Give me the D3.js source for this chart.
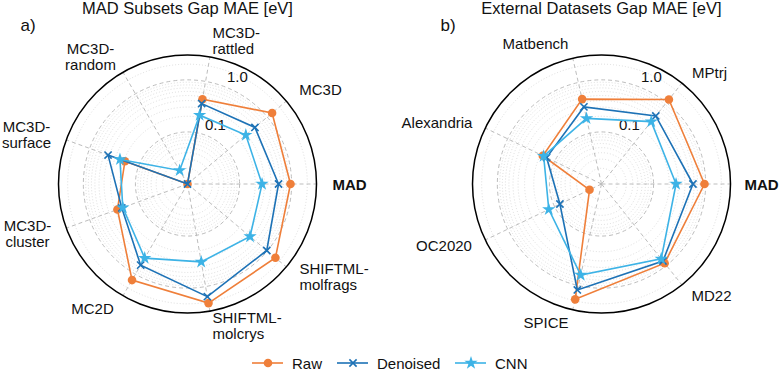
<!DOCTYPE html>
<html>
<head>
<meta charset="utf-8">
<script src="https://cdn.jsdelivr.net/npm/d3@7"></script>
<style>
  html, body { margin: 0; padding: 0; background: #fff; }
  svg { display: block; font-family: "Liberation Sans", Arial, sans-serif; }
</style>
</head>
<body>
<svg id="chart" width="780" height="371"></svg>
<script>
// ── Data ──────────────────────────────────────────────────
const subsetLabels   = ['MAD', 'MC3D', 'MC3D-\nrattled', 'MC3D-\nrandom', 'MC3D-\nsurface',
                        'MC3D-\ncluster', 'MC2D', 'SHIFTML-\nmolcrys', 'SHIFTML-\nmolfrags'];
const subsetRaw      = [0.95, 1.32, 0.45, 0.01, 0.19, 0.27, 1.35, 2.10, 1.60];
const subsetDenoised = [0.56, 0.49, 0.37, 0.01, 0.42, 0.22, 0.63, 1.57, 0.97];
const subsetCNN      = [0.27, 0.29, 0.22, 0.02, 0.24, 0.21, 0.44, 0.33, 0.37];

const externalLabels   = ['MAD', 'MPtrj', 'Matbench', 'Alexandria', 'OC2020', 'SPICE', 'MD22'];
const externalRaw      = [0.95, 1.19, 0.47, 0.178, 0.018, 1.87, 0.88];
const externalDenoised = [0.57, 0.47, 0.33, 0.148, 0.077, 1.22, 0.78];
const externalCNN      = [0.27, 0.34, 0.196, 0.171, 0.133, 0.62, 0.69];

const radialTicks = [0.1, 1.0];
const seriesNames = ['Raw', 'Denoised', 'CNN'];

// ── Style / layout ────────────────────────────────────────
const COLORS = { Raw: '#ef7f3a', Denoised: '#1d72b6', CNN: '#3db3e6' };
const R = 129;

// label block centre offsets from the radar centre (+ text anchor)
const subsetLabelPos = [
  [162, 0, 'middle'], [133, -95, 'middle'], [25, -143.5, 'start'], [-97, -128, 'middle'],
  [-161, -49.5, 'middle'], [-160, 49, 'middle'], [-95, 124, 'middle'], [25, 141.5, 'start'],
  [112, 92.5, 'start']
];
const externalLabelPos = [
  [160, 0, 'middle'], [108, -112, 'middle'], [-66, -141, 'middle'], [-164.5, -62, 'middle'],
  [-157.5, 61, 'middle'], [-55.5, 138, 'middle'], [110, 111, 'middle']
];

const svg = d3.select('#chart');

const rScale = d3.scaleLog().domain([0.01, 3]).range([0, R]).clamp(true);

function crossPath(s) {
  return `M${-s},${-s}L${s},${s}M${-s},${s}L${s},${-s}`;
}

function drawRadar(cx, cy, labels, series, labelPos, title, tag) {
  const g = svg.append('g').attr('transform', `translate(${cx},${cy})`);
  const n = labels.length;
  const ang = d3.scaleLinear().domain([0, n]).range([0, 2 * Math.PI]);
  const pt = (i, v) => {
    const a = ang(i), r = rScale(v);
    return [r * Math.cos(a), -r * Math.sin(a)];
  };

  // minor rings
  const minor = [];
  [0.01, 0.1, 1].forEach(d => d3.range(2, 10).forEach(k => { if (d * k < 3) minor.push(d * k); }));
  g.selectAll('.minor').data(minor).join('circle')
    .attr('r', d => rScale(d))
    .attr('fill', 'none').attr('stroke', '#d4d4d4')
    .attr('stroke-width', 0.8).attr('stroke-dasharray', '1,2');

  // major rings
  g.selectAll('.major').data(radialTicks).join('circle')
    .attr('r', d => rScale(d))
    .attr('fill', 'none').attr('stroke', '#bdbdbd')
    .attr('stroke-width', 1).attr('stroke-dasharray', '4,3');

  // spokes
  g.selectAll('.spoke').data(d3.range(n)).join('line')
    .attr('x1', 0).attr('y1', 0)
    .attr('x2', i => R * Math.cos(ang(i)))
    .attr('y2', i => -R * Math.sin(ang(i)))
    .attr('stroke', '#bdbdbd').attr('stroke-width', 1).attr('stroke-dasharray', '4,3');

  // outer frame
  g.append('circle').attr('r', R).attr('fill', 'none')
    .attr('stroke', '#000').attr('stroke-width', 1.5);

  // tick labels
  g.selectAll('.rtick').data(radialTicks).join('text')
    .attr('x', d => (rScale(d) + 14) * Math.cos(65 * Math.PI / 180))
    .attr('y', d => -(rScale(d) + 14) * Math.sin(65 * Math.PI / 180))
    .attr('text-anchor', 'middle').attr('dominant-baseline', 'central')
    .attr('font-size', 15).attr('fill', '#111')
    .text(d => d.toFixed(1));

  // series
  const line = d3.line().curve(d3.curveLinearClosed);
  series.forEach((vals, si) => {
    const name = seriesNames[si];
    const col = COLORS[name];
    const pts = vals.map((v, i) => pt(i, v));
    g.append('path').attr('d', line(pts))
      .attr('fill', 'none').attr('stroke', col).attr('stroke-width', 1.6);
    const mk = g.selectAll(null).data(pts).join('g')
      .attr('transform', d => `translate(${d[0]},${d[1]})`);
    drawMarker(mk, name, col);
  });

  // category labels
  labels.forEach((lab, i) => {
    const [dx, dy, anchor] = labelPos[i];
    const lines = lab.split('\n');
    const t = g.append('text')
      .attr('text-anchor', anchor)
      .attr('font-size', 15).attr('fill', '#111')
      .attr('font-weight', lab === 'MAD' ? 'bold' : 'normal');
    lines.forEach((ln, k) => {
      t.append('tspan')
        .attr('x', dx)
        .attr('y', dy + (k - (lines.length - 1) / 2) * 16)
        .attr('dominant-baseline', 'central')
        .text(ln);
    });
  });

  // title
  svg.append('text').attr('x', cx).attr('y', 14)
    .attr('text-anchor', 'middle').attr('font-size', 16.5).attr('fill', '#111')
    .text(title);
  svg.append('text').attr('x', cx - (tag === 'a)' ? 167 : 161)).attr('y', 31)
    .attr('font-size', 17).attr('fill', '#111')
    .text(tag);
}

function drawMarker(sel, name, col) {
  if (name === 'Raw') {
    sel.append('circle').attr('r', 4.3).attr('fill', col);
  } else if (name === 'Denoised') {
    sel.append('path').attr('d', crossPath(3.6))
      .attr('stroke', col).attr('stroke-width', 1.6).attr('fill', 'none');
  } else {
    sel.append('path').attr('d', d3.symbol(d3.symbolStar, 55)())
      .attr('fill', col);
  }
}

drawRadar(187.5, 184, subsetLabels, [subsetRaw, subsetDenoised, subsetCNN],
  subsetLabelPos, 'MAD Subsets Gap MAE [eV]', 'a)');
drawRadar(601.5, 184, externalLabels, [externalRaw, externalDenoised, externalCNN],
  externalLabelPos, 'External Datasets Gap MAE [eV]', 'b)');

// ── Legend ────────────────────────────────────────────────
const legendX = [252, 337, 455];
seriesNames.forEach((name, i) => {
  const lg = svg.append('g').attr('transform', `translate(${legendX[i]},363)`);
  lg.append('line').attr('x1', 0).attr('x2', 31).attr('y1', 0).attr('y2', 0)
    .attr('stroke', COLORS[name]).attr('stroke-width', 1.6);
  drawMarker(lg.append('g').attr('transform', 'translate(16,0)'), name, COLORS[name]);
  lg.append('text').attr('x', 40).attr('y', 0).attr('dominant-baseline', 'central')
    .attr('font-size', 15).attr('fill', '#111').text(name);
});
</script>
</body>
</html>
